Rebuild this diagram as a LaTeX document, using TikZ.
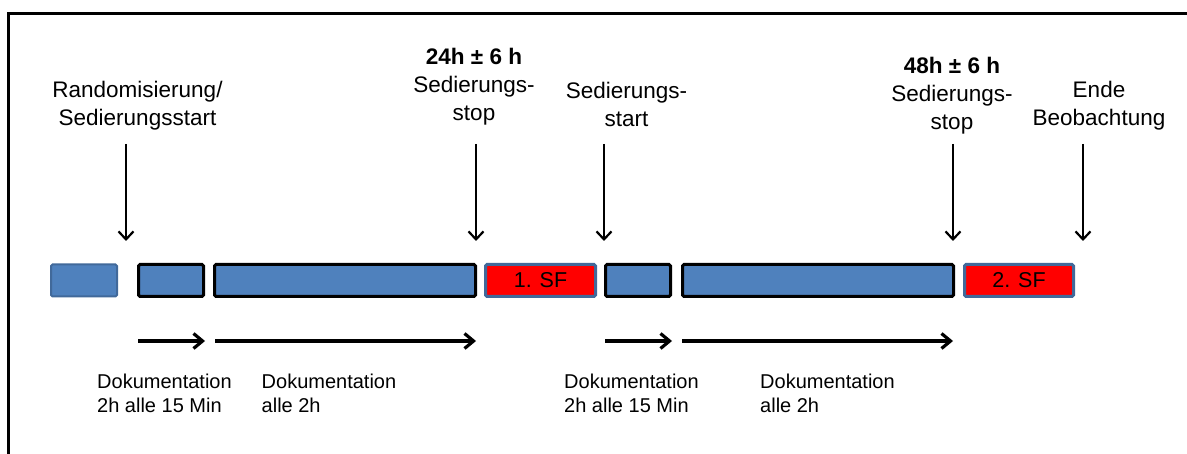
\documentclass[tikz,border=0pt]{standalone}
\usepackage{fontspec}
\setmainfont{Liberation Sans}
\usetikzlibrary{arrows.meta}
\definecolor{boxblue}{HTML}{4F81BD}
\definecolor{boxedge}{HTML}{41699A}
\definecolor{sfred}{HTML}{FF0000}
\begin{document}
\begin{tikzpicture}[x=1pt,y=-1pt,
  phase/.style={minimum height=32pt, inner sep=0pt, rounded corners=1.5pt},
  prebox/.style={phase, draw=boxedge, fill=boxblue, line width=2pt},
  docbox/.style={phase, draw=black, fill=boxblue, line width=3pt},
  sfbox/.style={phase, draw=boxedge, fill=sfred, line width=3pt,
    font=\fontsize{21.5}{24}\selectfont},
  toplabel/.style={anchor=north, inner sep=0pt, align=center,
    font=\fontsize{22.5}{28}\selectfont},
  doclabel/.style={anchor=north west, inner sep=0pt, align=left,
    font=\fontsize{20}{24}\selectfont},
  downarrow/.style={line width=2.2pt, -{Straight Barb[length=8pt,width=15pt]}},
  sparrow/.style={line width=3.2pt, -{Straight Barb[length=9pt,width=15pt]}},
  frame/.style={line width=3pt}
]
\useasboundingbox (0,0) rectangle (1187,454);
\clip (0,0) rectangle (1187,454);
% frame
\draw[frame] (1195,14) -- (8,14) -- (8,460);

% phase boxes
\node[prebox, minimum width=66pt] (b1) at (84,280.5) {};
\node[docbox, minimum width=65pt] (b2) at (171,280.5) {};
\node[docbox, minimum width=261pt] (b3) at (345,280.5) {};
\node[sfbox, minimum width=110pt] (sf1) at (540.5,280.5) {1. SF};
\node[docbox, minimum width=65pt] (b4) at (638,280.5) {};
\node[docbox, minimum width=271pt] (b5) at (818,280.5) {};
\node[sfbox, minimum width=109pt] (sf2) at (1019,280.5) {2. SF};

% top labels
\node[toplabel] (l1) at (137.5,81) {Randomisierung/\\Sedierungsstart};
\node[toplabel] (l2) at (474,48) {\textbf{24h ± 6 h}\\Sedierungs-\\stop};
\node[toplabel] (l3) at (626.5,82) {Sedierungs-\\start};
\node[toplabel] (l4) at (952,57) {\textbf{48h ± 6 h}\\Sedierungs-\\stop};
\node[toplabel] (l5) at (1099,81) {Ende\\Beobachtung};

% down arrows
\coordinate (a1s) at (126,144); \coordinate (a1e) at (126,241);
\coordinate (a2s) at (476,144); \coordinate (a2e) at (476,241);
\coordinate (a3s) at (604,144); \coordinate (a3e) at (604,241);
\coordinate (a4s) at (953,144); \coordinate (a4e) at (953,241);
\coordinate (a5s) at (1083,144); \coordinate (a5e) at (1083,241);
\draw[downarrow] (a1s) -- (a1e);
\draw[downarrow] (a2s) -- (a2e);
\draw[downarrow] (a3s) -- (a3e);
\draw[downarrow] (a4s) -- (a4e);
\draw[downarrow] (a5s) -- (a5e);

% span arrows
\coordinate (s1s) at (138,341); \coordinate (s1e) at (205,341);
\coordinate (s2s) at (215,341); \coordinate (s2e) at (476,341);
\coordinate (s3s) at (605,341); \coordinate (s3e) at (672,341);
\coordinate (s4s) at (682,341); \coordinate (s4e) at (953,341);
\draw[sparrow] (s1s) -- (s1e);
\draw[sparrow] (s2s) -- (s2e);
\draw[sparrow] (s3s) -- (s3e);
\draw[sparrow] (s4s) -- (s4e);

% documentation labels
\node[doclabel] (d1) at (97,374) {Dokumentation\\2h alle 15 Min};
\node[doclabel] (d2) at (261.5,374) {Dokumentation\\alle 2h};
\node[doclabel] (d3) at (564,374) {Dokumentation\\2h alle 15 Min};
\node[doclabel] (d4) at (760,374) {Dokumentation\\alle 2h};
\end{tikzpicture}
\end{document}
